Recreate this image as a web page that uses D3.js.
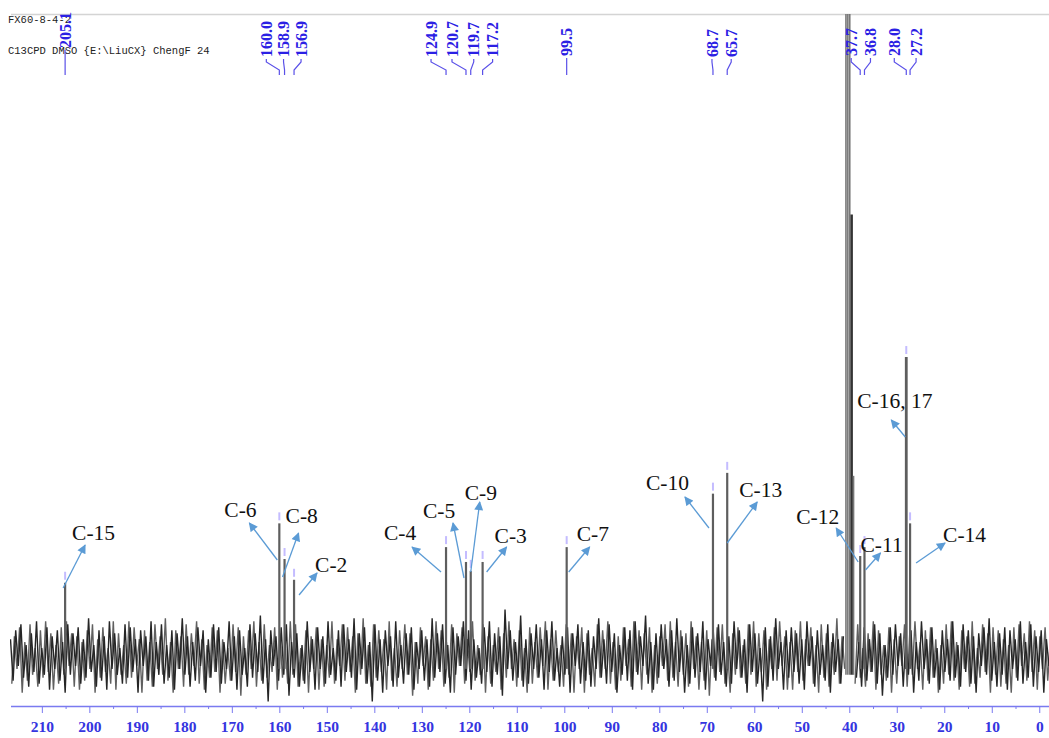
<!DOCTYPE html>
<html><head><meta charset="utf-8">
<script src="https://cdn.jsdelivr.net/npm/d3@7"></script>
<style>body{margin:0;background:#fff}</style>
</head><body>
<svg id="c" width="1049" height="738"></svg>
<script>
// ---- data ----
const peakPpm    = [205.1, 160.0, 158.9, 156.9, 124.9, 120.7, 119.7, 117.2, 99.5, 68.7, 65.7, 37.7, 36.8, 28.0, 27.2];
const peakHeight = [25, 45, 33, 26, 37, 32, 29, 32, 37, 55, 62, 34, 37, 101, 45];
const peakLabels = ["205.1","160.0","158.9","156.9","124.9","120.7","119.7","117.2","99.5","68.7","65.7","37.7","36.8","28.0","27.2"];
const solventPpm    = [40.7, 40.3, 39.9, 39.5, 39.1];
const solventHeight = [240, 240, 240, 149, 61];
const assignLabels = ["C-15","C-6","C-8","C-2","C-4","C-5","C-9","C-3","C-7","C-10","C-13","C-12","C-11","C-16, 17","C-14"];
const assignPpm    = [205.1, 160.0, 158.9, 156.9, 124.9, 120.7, 119.7, 117.2, 99.5, 68.7, 65.7, 37.7, 36.8, 28.0, 27.2];
const majorTicks = [210,200,190,180,170,160,150,140,130,120,110,100,90,80,70,60,50,40,30,20,10,0];
const minorTicks = [205,195,185,175,165,155,145,135,125,115,105,95,85,75,65,55,45,35,25,15,5];
const noiseA = [
6,-8,9,-3,11,-7,4,-10,8,-5,12,-9,3,-6,10,-11,7,-4,9,-8,
5,-12,11,-6,8,-3,10,-9,6,-7,13,-5,4,-10,9,-8,7,-11,12,-4,
8,-6,3,-9,11,-7,10,-5,6,-12,9,-3,7,-8,12,-10,5,-6,11,-9,
4,-7,9,-11,8,-4,13,-6,7,-10,5,-8,10,-3,9,-12,6,-7,11,-5,
10,-9,5,-4,12,-8,7,-11,9,-6,3,-10,11,-7,8,-5,14,-9,6,-15,
9,-3,7,-8,10,-6,11,-13,5,-7,8,-10,4,-9,12,-5,6,-11,10,-4,
7,-9,12,-6,3,-8,9,-10,11,-5,6,-7,13,-11,8,-4,10,-9,5,-15,
11,-8,6,-12,9,-3,7,-10,12,-7,4,-9,8,-6,10,-11,5,-4,9,-8,
6,-10,13,-7,8,-5,11,-9,4,-12,10,-6,7,-3,12,-8,9,-11,6,-7,
3,-9,10,-5,12,-10,8,-6,7,-13,16,-4,9,-8,5,-7,14,-10,6,-9,
8,-4,11,-7,6,-11,9,-5,12,-8,3,-10,7,-6,10,-12,8,-3,11,-9,
5,-8,9,-10,7,-4,13,-7,6,-9,11,-5,8,-12,4,-6,10,-8,9,-11,
12,-6,7,-3,14,-9,5,-11,8,-7,11,-4,6,-10,9,-8,13,-5,7,-12,
4,-9,10,-7,8,-5,12,-11,6,-3,9,-8,11,-6,5,-10,7,-9,12,-4,
9,-7,6,-12,11,-5,8,-9,3,-15,10,-10,7,-8,13,-4,5,-11,9,-7,
10,-5,8,-9,6,-11,12,-3,7,-10,9,-6,4,-8,11,-12,8,-5,6,-9,
7,-11,9,-4,12,-7,5,-10,10,-8,6,-5,11,-9,8,-13,4,-7,10,-6,
11,-3,8,-10,7,-6,9,-12,5,-8,12,-4,6,-9,10,-7,3,-11,9,-5,
6,-8,12,-7,4,-10,11,-5,9,-9,7,-12,8,-3,10,-6,13,-8,5,-10,
8,-6,10,-11,9,-4,6,-8,12,-9,5,-7,11,-10,7,-5,9,-12,6,-3];
const noiseB = [
-9,7,-4,10,-12,5,-8,11,-6,3,-10,9,-7,12,-5,8,-11,4,-9,10,
-6,12,-3,8,-10,7,-11,5,-8,9,-4,11,-12,6,-7,10,-5,3,-9,12,
-11,8,-6,4,-9,12,-7,10,-3,6,-12,9,-8,5,-10,11,-4,7,-6,13,
-8,5,-12,9,-4,7,-10,11,-6,8,-3,12,-9,6,-11,4,-7,10,-5,9,
-12,6,-9,3,-8,11,-5,10,-13,7,-6,9,-4,12,-10,5,-8,11,-7,4,
-5,10,-11,8,-7,4,-9,12,-6,11,-10,3,-8,9,-12,7,-4,10,-11,6,
-10,4,-7,12,-9,6,-3,11,-8,10,-5,7,-12,8,-6,13,-9,4,-10,11,
-7,9,-5,6,-11,12,-8,3,-10,9,-4,11,-6,8,-13,5,-9,10,-3,7,
-11,6,-8,12,-4,9,-10,5,-7,11,-12,8,-3,10,-9,6,-5,12,-8,4,
-6,11,-12,7,-9,4,-5,10,-11,8,-7,12,-4,6,-10,9,-8,3,-12,10,
-9,5,-7,10,-3,12,-11,6,-8,9,-5,4,-10,11,-6,8,-12,7,-4,10,
-12,8,-6,3,-10,11,-7,9,-4,12,-9,5,-11,7,-8,10,-3,6,-10,12,
-5,9,-11,8,-6,10,-12,4,-9,7,-3,11,-8,12,-7,5,-10,9,-6,8,
-10,12,-4,7,-11,5,-8,9,-13,6,-7,10,-5,11,-9,3,-12,8,-6,10,
-7,4,-9,11,-6,12,-10,8,-5,9,-11,6,-4,10,-8,12,-3,7,-11,5,
-11,9,-5,12,-8,6,-3,10,-9,4,-12,11,-7,8,-10,5,-6,13,-9,7,
-4,10,-12,6,-9,11,-7,3,-10,8,-5,12,-11,9,-6,4,-8,10,-12,6,
-9,7,-3,11,-10,8,-6,12,-4,5,-11,9,-8,10,-7,6,-12,4,-9,11,
-6,12,-8,5,-11,9,-4,7,-10,12,-9,3,-7,11,-5,8,-12,10,-6,9,
-10,6,-9,4,-12,10,-7,11,-3,8,-8,12,-5,9,-11,7,-4,10,-8,5];
const ppmStart = 216.6, ppmEnd = -2.05;

// ---- layout (not data) ----
const labelDx = [0,-13,-1,7,-15,-14,3,10,0,-1,4,-9,6,-12,6];
const labelLift = [9,0,0,0,0,0,0,0,1,0,0,1,1,1,1];
const ann = [
 {sdx:-2, sy:588, edx:20, ey:545, tdx:7,  ty:540},
 {sdx:-2, sy:560, edx:-30,ey:523, tdx:-55,ty:517},
 {sdx:-2, sy:577, edx:14, ey:533, tdx:1,  ty:523},
 {sdx:5,  sy:595, edx:23, ey:573, tdx:21, ty:572},
 {sdx:-5, sy:572, edx:-34,ey:547, tdx:-62,ty:540},
 {sdx:-2, sy:578, edx:-13,ey:523, tdx:-43,ty:518},
 {sdx:0,  sy:572, edx:9,  ey:502, tdx:-6, ty:500},
 {sdx:4,  sy:572, edx:24, ey:547, tdx:12, ty:543},
 {sdx:2,  sy:572, edx:23, ey:547, tdx:10, ty:541},
 {sdx:-4, sy:528, edx:-28,ey:497, tdx:-67,ty:490},
 {sdx:0,  sy:543, edx:30, ey:502, tdx:12, ty:497},
 {sdx:-2, sy:562, edx:-24,ey:528, tdx:-64,ty:524},
 {sdx:1,  sy:570, edx:16, ey:553, tdx:-4, ty:552},
 {sdx:-1, sy:437, edx:-15,ey:420, tdx:-49,ty:408},
 {sdx:6,  sy:563, edx:35, ey:543, tdx:33, ty:542}
];

const svg = d3.select("#c");
const x = d3.scaleLinear().domain([ppmStart, ppmEnd]).range([10.5, 1049]);
const y = d3.scaleLinear().domain([0, 100]).range([657, 360]);

svg.append("rect").attr("width",1049).attr("height",738).attr("fill","#fff");
const defs = svg.append("defs");
defs.append("clipPath").attr("id","clip")
  .append("rect").attr("x",10).attr("y",14).attr("width",1039).attr("height",700);
defs.append("marker").attr("id","ah").attr("viewBox","0 0 10 10")
  .attr("refX",9).attr("refY",5).attr("markerWidth",10).attr("markerHeight",9)
  .attr("markerUnits","userSpaceOnUse").attr("orient","auto")
  .append("path").attr("d","M0,0 L10,5 L0,10 z").attr("fill","#5b9bd5");

svg.append("line").attr("x1",11).attr("x2",1049).attr("y1",14.5).attr("y2",14.5)
  .attr("stroke","#d4d4d4").attr("stroke-width",1.5);

svg.append("text").attr("x",8).attr("y",23).text("FX60-8-4-2")
  .attr("font-family","Liberation Mono").attr("font-size",10.5).attr("fill","#222");
svg.append("text").attr("x",8).attr("y",54).text("C13CPD DMSO {E:\\LiuCX} ChengF 24")
  .attr("font-family","Liberation Mono").attr("font-size",10.5).attr("fill","#222");

const plot = svg.append("g").attr("clip-path","url(#clip)");

function noiseLine(arr, shift, color, w){
  const step = (ppmStart - ppmEnd) / (arr.length - 1);
  const pts = arr.map((v,i)=>({p: ppmStart - i*step - shift*step, v}));
  plot.append("path").datum(pts)
    .attr("d", d3.line().defined(d=> !(d.p>38.9 && d.p<40.9)).x(d=>x(d.p)).y(d=>y(d.v)))
    .attr("fill","none").attr("stroke",color).attr("stroke-width",w);
}
noiseLine(noiseB, 0.5, "#606060", 1.4);
noiseLine(noiseA, 0, "#262626", 1.4);

plot.selectAll(".sol").data(solventPpm).join("line")
  .attr("x1",d=>x(d)).attr("x2",d=>x(d))
  .attr("y1",y(-6)).attr("y2",(d,i)=>y(solventHeight[i]))
  .attr("stroke",(d,i)=> i===3 ? "#333" : "#777").attr("stroke-width",(d,i)=> i===3?2.5:1.6);

plot.selectAll(".pk").data(peakPpm).join("line")
  .attr("x1",d=>x(d)).attr("x2",d=>x(d))
  .attr("y1",y(-4)).attr("y2",(d,i)=>y(peakHeight[i]))
  .attr("stroke","#5e5e5e").attr("stroke-width",(d,i)=> peakPpm[i]===28.0?2.8:2.2);
plot.selectAll(".mk").data(peakPpm).join("line")
  .attr("x1",d=>x(d)).attr("x2",d=>x(d))
  .attr("y1",(d,i)=>y(peakHeight[i])-3).attr("y2",(d,i)=>y(peakHeight[i])-11)
  .attr("stroke","#c4bcff").attr("stroke-width",2);

const blue = "#2b20e4";
peakPpm.forEach((p,i)=>{
  const px = x(p), lx = px + labelDx[i], yb = 57 - labelLift[i];
  const path = labelDx[i]===0
    ? `M${px},${yb+2} L${px},75`
    : `M${lx},${yb+2} L${lx},62 L${px},70 L${px},75`;
  svg.append("path").attr("d",path).attr("fill","none").attr("stroke","#5a50e8").attr("stroke-width",1.2);
  svg.append("text").attr("transform",`translate(${lx},${yb}) rotate(-90)`)
    .attr("dy","0.35em").attr("text-anchor","start")
    .attr("font-family","Liberation Serif").attr("font-weight","bold").attr("font-size",16)
    .attr("fill",blue).text(peakLabels[i]);
});

const ax = svg.append("g").attr("transform","translate(0,706)");
ax.call(d3.axisBottom(x).tickValues(majorTicks).tickSize(7).tickSizeOuter(0).tickPadding(8).tickFormat(d3.format("d")));
ax.select(".domain").attr("stroke","#7a7af0").attr("stroke-width",1.5);
ax.selectAll(".tick line").attr("stroke","#7a7af0");
ax.selectAll(".tick text").attr("fill","#3535e0").attr("font-family","Liberation Serif")
  .attr("font-weight","bold").attr("font-size",15.5);
const ax2 = svg.append("g").attr("transform","translate(0,706)");
ax2.call(d3.axisBottom(x).tickValues(minorTicks).tickSize(3).tickSizeOuter(0).tickFormat(""));
ax2.select(".domain").remove();
ax2.selectAll(".tick line").attr("stroke","#7a7af0");

assignPpm.forEach((p,i)=>{
  const px = x(p), a = ann[i];
  svg.append("line").attr("x1",px+a.sdx).attr("y1",a.sy).attr("x2",px+a.edx).attr("y2",a.ey)
    .attr("stroke","#5b9bd5").attr("stroke-width",1.3).attr("marker-end","url(#ah)");
  svg.append("text").attr("x",px+a.tdx).attr("y",a.ty).text(assignLabels[i])
    .attr("font-family","Liberation Serif").attr("font-size",21.5).attr("fill","#111");
});
</script>
</body></html>
